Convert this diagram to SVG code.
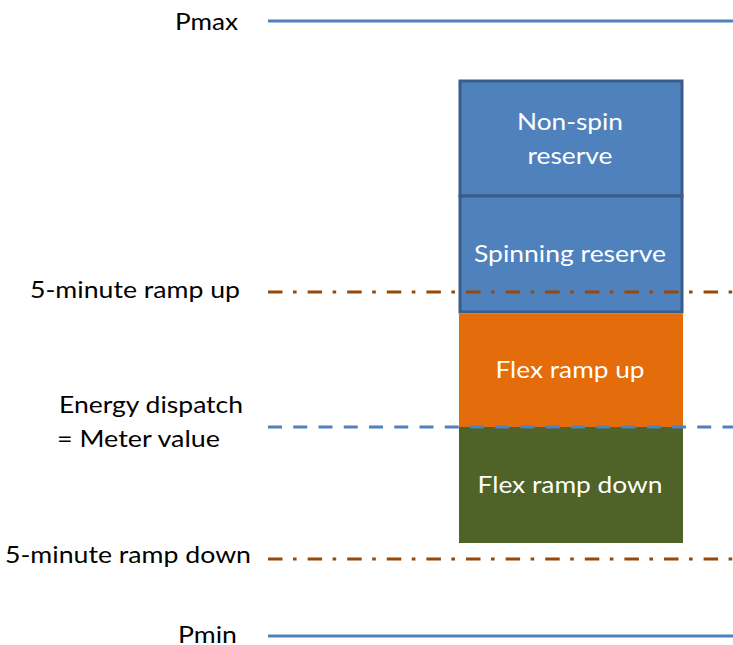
<svg xmlns="http://www.w3.org/2000/svg" width="733" height="645" viewBox="0 0 733 645">
<style>
text{font-family:Lato,"Open Sans","Liberation Sans",sans-serif;font-size:23.5px}
.lbl{fill:#000}
.in{fill:#fff;text-anchor:middle}
.solid{stroke:#4F81BD;stroke-width:3;fill:none}
.dd{stroke:#984807;stroke-width:3;fill:none;stroke-dasharray:14.5 10.5 3.6 11}
.dash{stroke:#4F81BD;stroke-width:3;fill:none;stroke-dasharray:14 11.25}
</style>
<rect width="733" height="645" fill="#fff"/>
<g id="nonspin">
<rect x="460" y="81" width="222" height="115" fill="#4F81BD" stroke="#385D8A" stroke-width="3"/>
<text class="in" x="570" y="130" textLength="106" lengthAdjust="spacingAndGlyphs">Non-spin</text>
<text class="in" x="570" y="164" textLength="85" lengthAdjust="spacingAndGlyphs">reserve</text>
</g>
<g id="spinning">
<rect x="460" y="196" width="222" height="116" fill="#4F81BD" stroke="#385D8A" stroke-width="3"/>
<text class="in" x="570" y="262" textLength="192" lengthAdjust="spacingAndGlyphs">Spinning reserve</text>
</g>
<g id="flexup">
<rect x="459" y="313.5" width="224" height="114" fill="#E46C0A"/>
<text class="in" x="570" y="378" textLength="149" lengthAdjust="spacingAndGlyphs">Flex ramp up</text>
</g>
<g id="flexdown">
<rect x="459" y="427" width="224" height="116" fill="#4F6228"/>
<text class="in" x="570" y="493" textLength="185" lengthAdjust="spacingAndGlyphs">Flex ramp down</text>
</g>
<g id="connectors">
<line class="solid" x1="268" y1="21" x2="733" y2="21"/>
<line class="dd" x1="268" y1="292" x2="733" y2="292"/>
<line class="dash" x1="268" y1="427" x2="733" y2="427"/>
<line class="dd" x1="268" y1="559" x2="733" y2="559"/>
<line class="solid" x1="268" y1="636" x2="733" y2="636"/>
</g>
<g id="labels">
<text class="lbl" x="175" y="30" textLength="63" lengthAdjust="spacingAndGlyphs">Pmax</text>
<text class="lbl" x="30" y="298" textLength="210" lengthAdjust="spacingAndGlyphs">5-minute ramp up</text>
<text class="lbl" x="59" y="413" textLength="184" lengthAdjust="spacingAndGlyphs">Energy dispatch</text>
<text class="lbl" x="57" y="447" textLength="163" lengthAdjust="spacingAndGlyphs">= Meter value</text>
<text class="lbl" x="5" y="563" textLength="246" lengthAdjust="spacingAndGlyphs">5-minute ramp down</text>
<text class="lbl" x="178" y="643" textLength="59" lengthAdjust="spacingAndGlyphs">Pmin</text>
</g>
</svg>
